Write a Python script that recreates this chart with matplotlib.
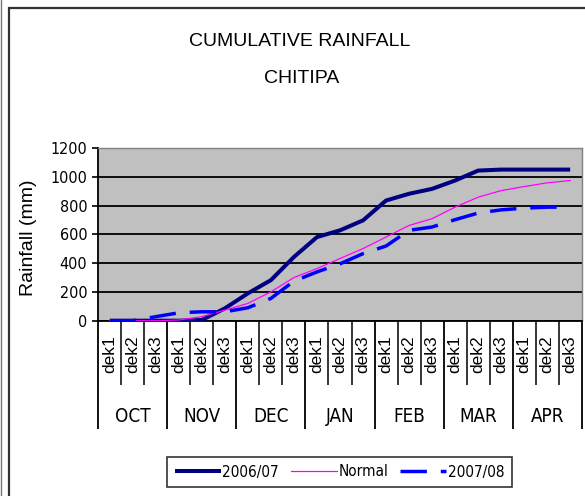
import matplotlib
matplotlib.use("Agg")
import matplotlib.pyplot as plt
from matplotlib.lines import Line2D
from matplotlib.patches import Rectangle
import matplotlib.transforms as mtransforms
from matplotlib.font_manager import FontProperties

# ---- data ----
months = ["OCT", "NOV", "DEC", "JAN", "FEB", "MAR", "APR"]
dek_labels = ["dek1", "dek2", "dek3"] * 7
y_ticks = [0, 200, 400, 600, 800, 1000, 1200]

rain_2006_07 = [0, 0, 0, 0, 5, 86, 190, 282, 443, 581, 628, 697, 835, 882, 916,
                974, 1043, 1050, 1050, 1050, 1050]
rain_normal = [0, 0, 0, 5, 28, 74, 120, 201, 300, 362, 432, 501, 581, 662, 709,
               789, 858, 904, 932, 958, 974]
rain_2007_08 = [0, 0, 28, 55, 62, 62, 90, 155, 275, 339, 395, 466, 519, 628, 651,
                702, 748, 770, 782, 789, 789]

REG = ["Liberation Sans", "DejaVu Sans"]


def narrow(size):
    return FontProperties(family=["DejaVu Sans"], stretch="condensed", size=size)


W, H = 585, 496
fig = plt.figure(figsize=(W / 100, H / 100), dpi=100)
fig.patch.set_facecolor("white")

# outer chart frame
fig.add_artist(Rectangle((8.5 / W, -0.2), 1.2, 1 - 7.5 / H + 0.2,
                         transform=fig.transFigure, fill=False,
                         edgecolor="#333333", linewidth=1.6))
fig.add_artist(Line2D([0.6 / W, 0.6 / W], [0, 1], transform=fig.transFigure,
                      color="#777777", linewidth=1.0))

left, right = 98.3 / W, 581.7 / W
bottom, top = 1 - 320.7 / H, 1 - 148.0 / H
ax = fig.add_axes([left, bottom, right - left, top - bottom])
ax.set_facecolor("#c0c0c0")

n = len(dek_labels)
xs = [i + 0.5 for i in range(n)]

ax.plot(xs, rain_2006_07, color="#000080", linewidth=2.9, solid_capstyle="butt",
        label="2006/07", zorder=3)
ax.plot(xs, rain_normal, color="#ff00ff", linewidth=0.9, label="Normal", zorder=4)
lw3 = 2.5
ax.plot(xs, rain_2007_08, color="#0000ff", linewidth=lw3, dashes=(19 / lw3, 10 / lw3),
        label="2007/08", zorder=5)

ax.set_xlim(0, n)
ax.set_ylim(0, 1200)
ax.set_yticks(y_ticks)
ax.set_yticklabels([str(v) for v in y_ticks])
for t in ax.get_yticklabels():
    t.set_fontproperties(narrow(11.5))
ax.yaxis.grid(True, color="black", linewidth=1.3)
ax.set_axisbelow(True)
ax.tick_params(axis="y", direction="out", length=4, width=1.2, pad=4)

# category axis: month ticks long, dek ticks shorter
ax.set_xticks(range(0, n + 1, 3))
ax.set_xticks(range(0, n + 1), minor=True)
ax.tick_params(axis="x", which="major", direction="out", length=78, width=1.3,
               labelbottom=False)
ax.tick_params(axis="x", which="minor", direction="out", length=46, width=1.1,
               labelbottom=False)

for sp in ("top", "right"):
    ax.spines[sp].set_color("#808080")
    ax.spines[sp].set_linewidth(1.0)
ax.spines["left"].set_linewidth(1.3)
ax.spines["bottom"].set_linewidth(1.3)

trans = mtransforms.blended_transform_factory(ax.transData, ax.transAxes)
ax_h = 320.7 - 148.0
for i, lab in enumerate(dek_labels):
    ax.text(i + 0.5, -33 / ax_h, lab, transform=trans, rotation=90,
            ha="center", va="center", fontfamily=REG, fontsize=12.5)
for j, m in enumerate(months):
    ax.text(3 * j + 1.5, -96 / ax_h, m, transform=trans, ha="center", va="center",
            fontproperties=narrow(13.5))

ax.set_ylabel("Rainfall (mm)", fontfamily=REG, fontsize=14)
ax.yaxis.set_label_coords(-61 / (581.7 - 98.3), 0.48)

fig.text(300 / W, 1 - 42 / H, "CUMULATIVE RAINFALL", ha="center", va="center",
         fontfamily=REG, fontsize=14)
fig.text(302 / W, 1 - 78.5 / H, "CHITIPA", ha="center", va="center",
         fontfamily=REG, fontsize=14)

handles, labels = ax.get_legend_handles_labels()
leg = fig.legend(handles, labels, loc="center", bbox_to_anchor=(339.5 / W, 1 - 472 / H),
                 ncol=3, frameon=True, fancybox=False, edgecolor="black",
                 prop=narrow(11), handlelength=3.0,
                 handletextpad=0.1, columnspacing=0.8, borderpad=0.5,
                 borderaxespad=0)
leg.get_frame().set_linewidth(1.2)

fig.savefig("out.png", dpi=100, facecolor="white")
